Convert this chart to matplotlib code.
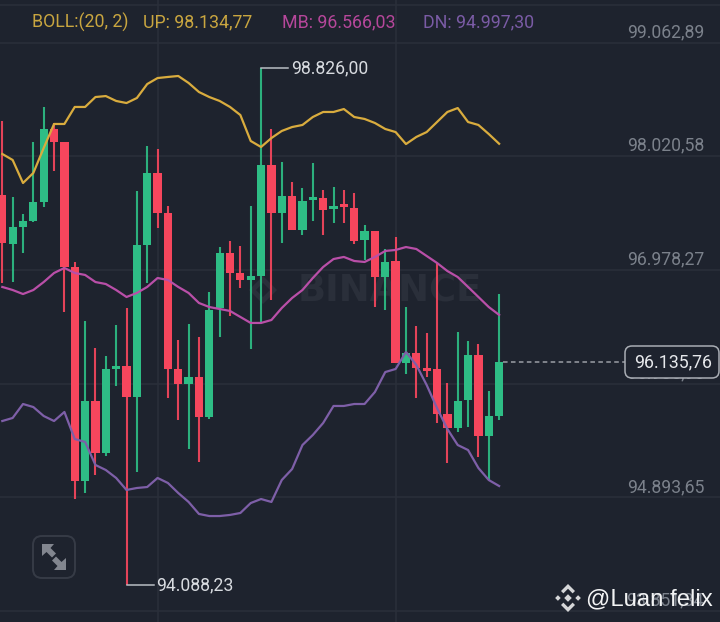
import matplotlib
matplotlib.use("Agg")
import matplotlib.pyplot as plt
import matplotlib.transforms as mt
from matplotlib.patches import FancyBboxPatch, Polygon

opens = [97665,97216,97372,97427,97601,98270,98151,97005,95043,95776,95300,96070,96097,95813,97207,97867,
         97500,96070,95932,95996,95630,96629,97133,96950,96886,96922,97940,97500,97656,97344,97619,97637,
         97537,97564,97546,97252,97335,96913,97060,96125,96216,96070,96070,95657,95529,95786,96198,95456,95639]
closes = [97225,97372,97427,97601,98270,98151,97005,95043,95776,95300,96070,96097,95813,97207,97867,97500,
          96070,95932,95996,95630,96611,97133,96950,96886,96922,97940,97500,97656,97344,97610,97637,97528,
          97564,97555,97243,97335,96913,97051,96125,96216,96079,96052,95657,95529,95776,96198,95456,95639,96135.76]
highs = [98343,97647,97491,98151,98472,98325,98151,97051,96510,96262,96189,96473,96629,97702,98114,98087,
         97564,96336,96482,96363,96776,97188,97243,97197,97564,98826,98270,97967,97784,97729,97958,97711,
         97738,97711,97683,97390,97335,97170,97280,96638,96464,96400,97042,95942,96409,96327,96299,95868,96757]
lows = [96858,96867,97133,97417,97555,97885,96592,94878,94933,95098,95272,95914,94088.23,95126,96858,97362,
        95804,95602,95337,95217,95612,96363,96556,96812,96253,96501,96702,97225,97344,97298,97427,97298,
        97408,97408,97216,97069,96638,96611,96125,96024,95804,95996,95575,95208,95492,95538,95263,95052,95602]

upper = [98041,97986,97775,97867,98096,98316,98316,98472,98472,98563,98572,98527,98508,98554,98682,98737,
         98747,98756,98692,98609,98563,98527,98472,98398,98160,98105,98187,98252,98288,98307,98380,98426,
         98426,98453,98380,98362,98325,98270,98242,98132,98197,98242,98334,98426,98462,98334,98307,98224,98134.77]
middle = [96822,96794,96757,96794,96867,96950,96996,96950,96932,96867,96849,96794,96730,96767,96822,96904,
          96886,96822,96767,96675,96638,96620,96602,96547,96492,96492,96519,96629,96721,96794,96904,97005,
          97078,97097,97060,97051,97097,97152,97161,97188,97170,97106,97042,96968,96913,96822,96730,96638,96566.03]
lower = [95593,95621,95749,95721,95639,95593,95676,95428,95401,95190,95144,95071,94961,94979,94988,95071,
         95025,94933,94851,94741,94722,94722,94732,94750,94841,94878,94851,95052,95153,95373,95465,95575,
         95731,95731,95749,95749,95859,96042,96070,96226,96107,95923,95712,95520,95373,95327,95162,95052,94997.30]

price_ticks = [99062.89, 98020.58, 96978.27, 95935.96, 94893.65, 93851.34]
price_labels = ["99.062,89", "98.020,58", "96.978,27", "95.935,96", "94.893,65", "93.851,34"]
legend_items = [("BOLL:(20, 2)", 32, "#c9a640"), ("UP: 98.134,77", 143, "#c9a640"),
                ("MB: 96.566,03", 282, "#b6479b"), ("DN: 94.997,30", 423, "#7a5ba5")]
time_ticks = [15, 38]
last_price = 96135.76
last_label = "96.135,76"
high_label = "98.826,00"
low_label = "94.088,23"

BG = "#1e232e"; GRID = "#2a2f3a"; GREEN = "#2ebd85"; RED = "#f6465d"
FONT = "Roboto"

fig = plt.figure(figsize=(7.2, 6.22), dpi=100, facecolor=BG)
ax = fig.add_axes([0, 0, 1, 1], facecolor=BG)
ax.set_xlim(-0.222, 69.34)
ax.set_ylim(93750.6, 99452.5)
ax.axis("off")

for p in price_ticks:
    ax.axhline(p, color=GRID, lw=1.2, zorder=1)
ax.axhline(99407, color=GRID, lw=1.2, zorder=1)
for t in time_ticks:
    ax.axvline(t, color=GRID, lw=1.2, zorder=1)

# price tick labels
for p, lab in zip(price_ticks, price_labels):
    ax.annotate(lab, (1, p), xycoords=("axes fraction", "data"), xytext=(-11.5, 1),
                textcoords="offset points", ha="right", va="bottom", fontsize=12.7,
                family=FONT, color="#7b818b", zorder=2)

xs = list(range(len(opens)))
for i in xs:
    c = GREEN if closes[i] >= opens[i] else RED
    ax.vlines(i, lows[i], highs[i], color=c, lw=1.5, alpha=0.92, zorder=4)
    b = min(opens[i], closes[i]); h = abs(closes[i] - opens[i])
    ax.bar(i, max(h, 25), bottom=b, width=0.8, color=c, lw=0, zorder=5)

ax.plot(xs, upper, color="#d9ac3e", lw=1.6, zorder=6, solid_joinstyle="round")
ax.plot(xs, middle, color="#b94fa8", lw=1.6, zorder=6, solid_joinstyle="round")
ax.plot(xs, lower, color="#7e5fa8", lw=1.6, zorder=6, solid_joinstyle="round")

# last price
ax.plot([48.35, 66.2], [last_price, last_price], color="#9a9ea6", lw=1.1, ls=(0, (3, 2.2)), zorder=3)

# high / low callouts
hi_i = highs.index(max(highs)); lo_i = lows.index(min(lows))
ax.plot([hi_i, hi_i + 2.6], [highs[hi_i]] * 2, color="#b9bdc4", lw=1.1, zorder=7)
ax.annotate(high_label, (hi_i + 2.9, highs[hi_i]), ha="left", va="center", fontsize=12.7,
            family=FONT, color="#d8dbe0", zorder=8)
ax.plot([lo_i, lo_i + 2.7], [lows[lo_i]] * 2, color="#b9bdc4", lw=1.1, zorder=7)
ax.annotate(low_label, (lo_i + 2.9, lows[lo_i]), ha="left", va="center", fontsize=12.7,
            family=FONT, color="#d8dbe0", zorder=8)

# faint BINANCE watermark, behind the candles
px = mt.Affine2D().scale(1, -1).translate(0, 622)
ax.text(298, 291.5, "BINANCE", transform=px, fontsize=26.6, fontweight="bold",
        family="DejaVu Sans", color="#2a2f3a", ha="left", va="center", zorder=2)
ax.add_patch(Polygon([(263, 276), (277, 290), (263, 304), (249, 290)], closed=True, fc="#2a2f3a", ec="none",
                     transform=px, zorder=2))
ax.add_patch(Polygon([(263, 283), (270, 290), (263, 297), (256, 290)], closed=True, fc=BG, ec="none",
                     transform=px, zorder=2))

# overlay in pixel coordinates for interface decoration
ov = fig.add_axes([0, 0, 1, 1], facecolor="none")
ov.set_xlim(0, 720); ov.set_ylim(622, 0); ov.axis("off")

for lab, x, col in legend_items:
    ov.text(x, 22, lab, color=col, fontsize=12.8, family=FONT, ha="left", va="center")

ov.add_patch(FancyBboxPatch((625, 346), 94, 32, boxstyle="round,pad=0,rounding_size=7",
                            fc=BG, ec="#a9adb4", lw=1.1, zorder=9))
ov.text(712.5, 362.5, last_label, color="#e6e8eb", fontsize=12.8, family=FONT, ha="right", va="center", zorder=10)

def logo(axis, cx, cy, s, col, z):
    for dx, r in [(0, 0.27), (-0.72, 0.2), (0.72, 0.2)]:
        axis.add_patch(Polygon([(cx + dx * s, cy - r * s), (cx + (dx + r) * s, cy),
                                (cx + dx * s, cy + r * s), (cx + (dx - r) * s, cy)],
                               fc=col, ec="none", zorder=z))
    for sg in (-1, 1):
        axis.add_patch(Polygon([(cx, cy + sg * s), (cx + 0.5 * s, cy + sg * 0.5 * s), (cx + 0.33 * s, cy + sg * 0.33 * s),
                                (cx, cy + sg * 0.66 * s), (cx - 0.33 * s, cy + sg * 0.33 * s), (cx - 0.5 * s, cy + sg * 0.5 * s)],
                               fc=col, ec="none", zorder=z))
logo(ov, 568, 598, 14, "#d5d6d8", 11)

# expand button
ov.add_patch(FancyBboxPatch((33, 536), 42, 42, boxstyle="round,pad=0,rounding_size=9",
                            fc="none", ec="#363b46", lw=1.4, zorder=9))
ico = "#82868f"
ov.add_patch(Polygon([(42, 544), (54, 544), (50.5, 548), (56, 553.5), (52, 557.5), (46.5, 552), (42, 556)], fc=ico, ec="none", zorder=10))
ov.add_patch(Polygon([(66, 570), (54, 570), (57.5, 566), (52, 560.5), (56, 556.5), (61.5, 562), (66, 558)], fc=ico, ec="none", zorder=10))

ov.text(586, 599, "@Luan felix", color="#f2f3f4", fontsize=17.2, family="Liberation Sans",
        ha="left", va="center", zorder=12)

fig.savefig("out.png", dpi=100, facecolor=BG)
